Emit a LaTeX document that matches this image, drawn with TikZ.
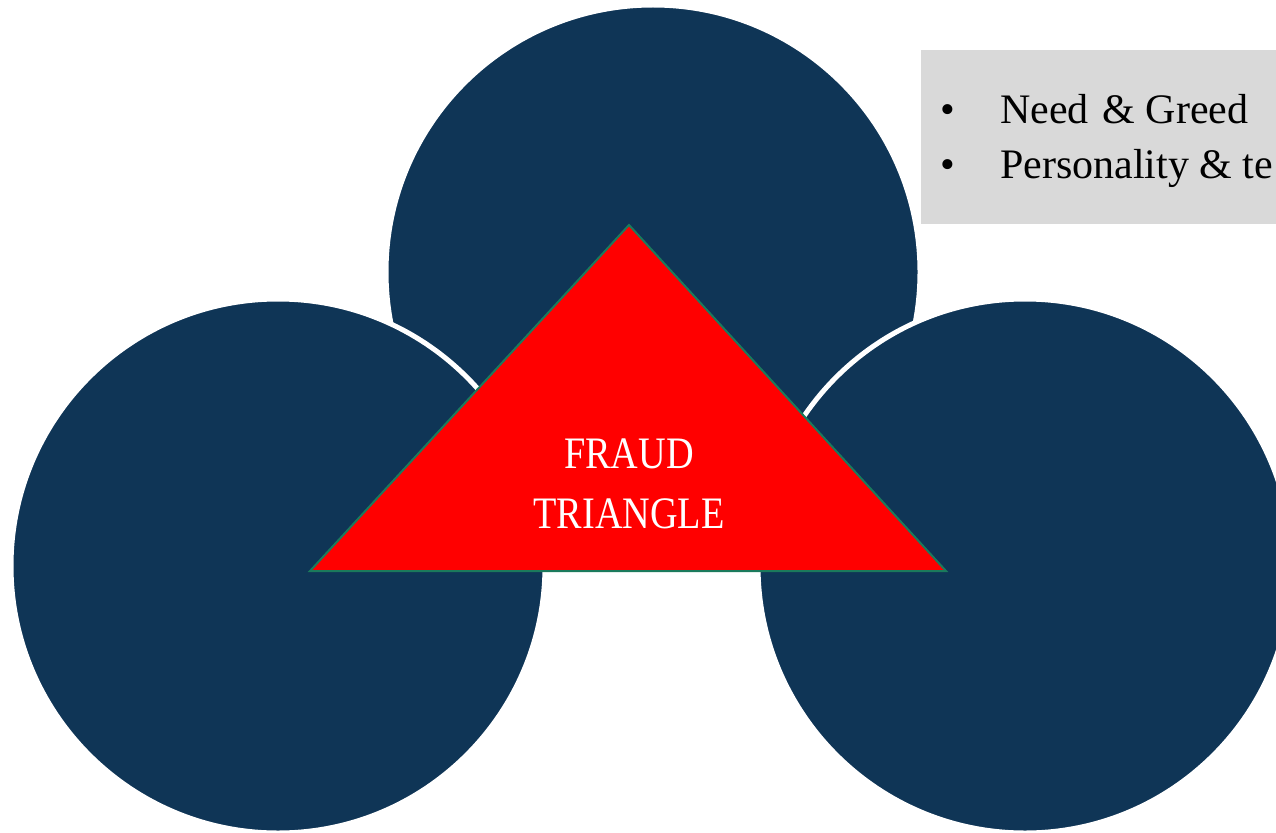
\documentclass[tikz,border=0pt]{standalone}
\usepackage{fontspec}
\setmainfont{Liberation Serif}
\definecolor{navy}{HTML}{0F3556}
\definecolor{edgegreen}{HTML}{1B7A5C}
\definecolor{panelgray}{HTML}{D9D9D9}
\begin{document}
\begin{tikzpicture}[x=1pt,y=-1pt,
  disc/.style={circle, fill=navy, draw=white, line width=5pt,
    minimum size=534pt, inner sep=0pt, outer sep=0pt},
  title/.style={text=white, font=\fontsize{45}{54}\selectfont,
    xscale=0.85, anchor=base, inner sep=0pt},
  bullettext/.style={font=\fontsize{42}{50}\selectfont, anchor=base west,
    inner sep=0pt}]
\clip (0,0) rectangle (1276,832);
\fill[white] (0,0) rectangle (1276,832);
% three overlapping discs
\node[disc] (topdisc) at (653,272) {};
\node[disc] (leftdisc) at (278,566) {};
\node[disc] (rightdisc) at (1025,566) {};
% central triangle
\draw[fill=red, draw=edgegreen, line width=2pt]
  (629,225) -- (946,571) -- (310,571) -- cycle;
\node[title] (fraud) at (629,468) {FRAUD};
\node[title] (triangle) at (629,528) {TRIANGLE};
% note panel
\node[fill=panelgray, anchor=north west, minimum width=380pt,
  minimum height=174pt, inner sep=0pt] (panel) at (921,50) {};
\node[bullettext, anchor=base] (b1) at (948,124) {•};
\node[bullettext] (need) at (1000,124) {Need\hspace{0.08em} \& Greed};
\node[bullettext, anchor=base] (b2) at (948,178) {•};
\node[bullettext] (pers) at (1000,178) {Personality \& te};
\end{tikzpicture}
\end{document}
